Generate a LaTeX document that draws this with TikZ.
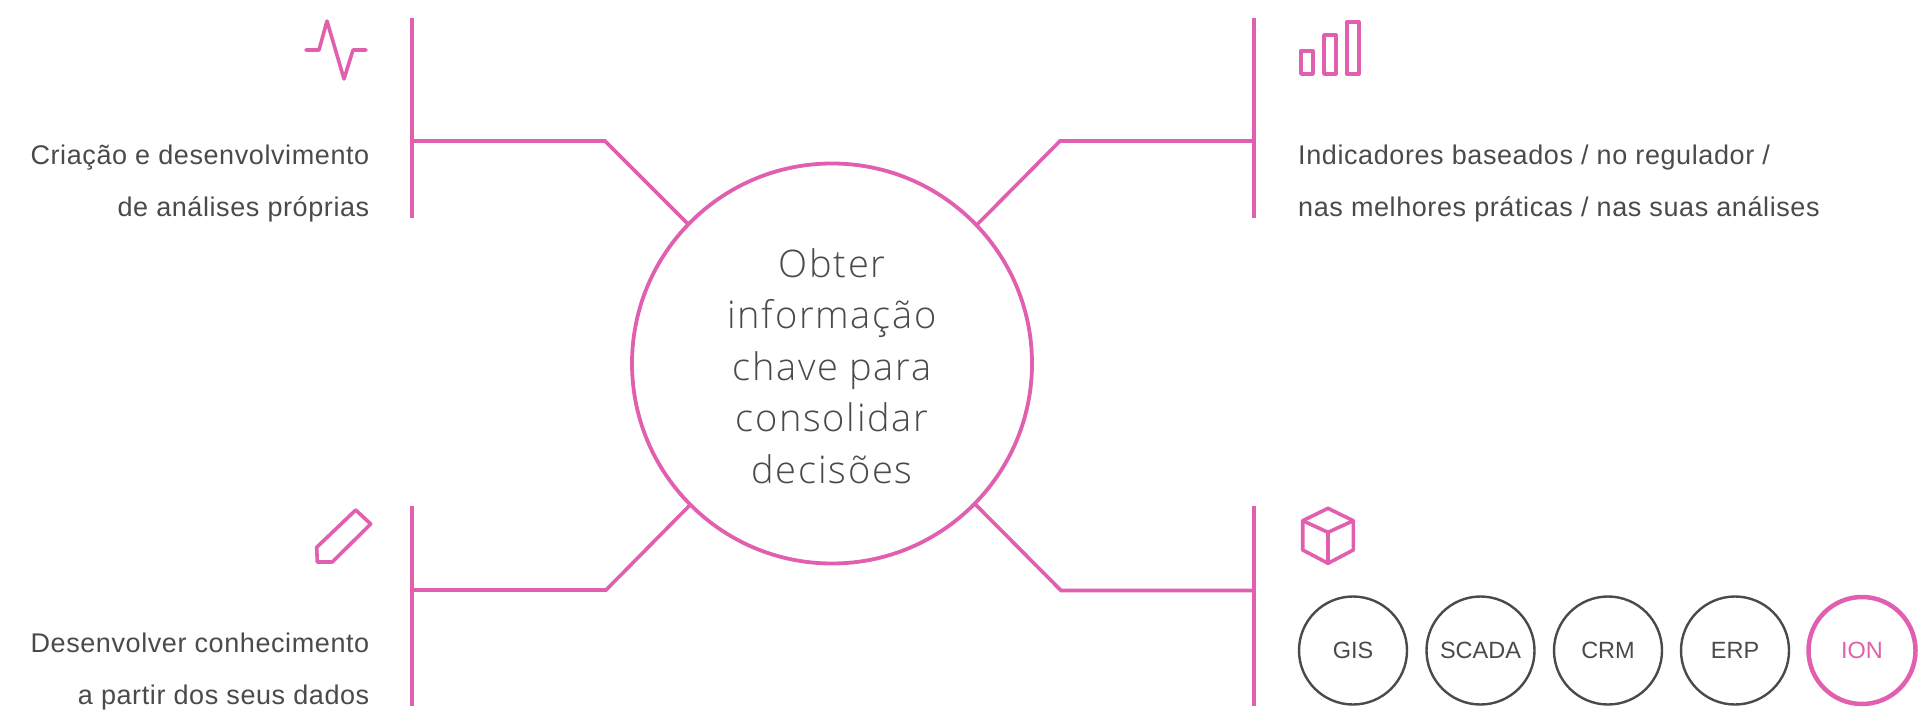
\documentclass[tikz,border=0pt]{standalone}
\usepackage{fontspec}
\setmainfont{Liberation Sans}[LetterSpace=2.2]
\newfontfamily\chipfont{Liberation Sans}
\newfontfamily\lightfont{Open Sans Light}[LetterSpace=4.5]
\definecolor{pink}{HTML}{E05FAE}
\definecolor{ink}{HTML}{4A4A4A}
\tikzset{
  pinkline/.style={draw=pink,line width=3.6pt},
  icon/.style={draw=pink,line width=3.6pt,line join=round,line cap=round},
  para/.style={text=ink,font=\fontsize{27}{27}\selectfont,inner sep=0pt},
  parar/.style={para,anchor=base east},
  paral/.style={para,anchor=base west},
  big/.style={text=ink,font=\lightfont\fontsize{38}{38}\selectfont,inner sep=0pt,anchor=base},
  sys/.style={circle,draw=ink,line width=2.4pt,minimum size=108pt,outer sep=0pt,inner sep=0pt,text=ink,font=\chipfont\fontsize{23.5}{24}\selectfont},
  sysion/.style={sys,draw=pink,line width=4.5pt,minimum size=107pt,text=pink},
  hub/.style={circle,draw=pink,line width=3.8pt,minimum size=400pt,outer sep=0pt,inner sep=0pt},
}
\begin{document}
\begin{tikzpicture}[x=1pt,y=-1pt]
\useasboundingbox (0,0) rectangle (1918,720);
\node[hub] (hub) at (832,363.5) {};
\coordinate (tlA) at (412,18); \coordinate (tlB) at (412,218); \coordinate (tlJ) at (412,141); \coordinate (tlK) at (605,141);
\coordinate (blA) at (412,506); \coordinate (blB) at (412,706); \coordinate (blJ) at (412,590); \coordinate (blK) at (606,590);
\coordinate (trA) at (1254,18); \coordinate (trB) at (1254,218); \coordinate (trJ) at (1254,141); \coordinate (trK) at (1060,141);
\coordinate (brA) at (1254,506); \coordinate (brB) at (1254,706); \coordinate (brJ) at (1254,590.5); \coordinate (brK) at (1061,590.5);
\coordinate (tlE) at ([shift={(-143.7,-139.2)}]hub.center);
\coordinate (trE) at ([shift={(144.7,-138.5)}]hub.center);
\coordinate (brE) at ([shift={(143,140.5)}]hub.center);
\coordinate (blE) at ([shift={(-142,141.5)}]hub.center);
\draw[pinkline] (tlA) -- (tlB);
\draw[pinkline] (blA) -- (blB);
\draw[pinkline] (trA) -- (trB);
\draw[pinkline] (brA) -- (brB);
\draw[pinkline] (tlJ) -- (tlK) -- (tlE);
\draw[pinkline] (blJ) -- (blK) -- (blE);
\draw[pinkline] (trJ) -- (trK) -- (trE);
\draw[pinkline] (brJ) -- (brK) -- (brE);
% centre text
\node[big] (c1) at (832,277) {Obter};
\node[big] (c2) at (832,328.5) {informação};
\node[big] (c3) at (832,380) {chave para};
\node[big] (c4) at (832,431.7) {consolidar};
\node[big] (c5) at (832,483.3) {decisões};
% paragraphs
\node[parar] (p1) at (369.5,164) {Criação e desenvolvimento};
\node[parar] (p2) at (369.5,216) {de análises próprias};
\node[parar] (p3) at (369.5,652) {Desenvolver conhecimento};
\node[parar] (p4) at (369.5,704) {a partir dos seus dados};
\node[paral] (p5) at (1298,164) {Indicadores baseados / no regulador /};
\node[paral] (p6) at (1298,216) {nas melhores práticas / nas suas análises};
% icons
\draw[icon] (306,50) -- (319,50) -- (327,21) -- (344,79) -- (353,50) -- (366,50);
\draw[icon] (1301,50.7) rectangle (1313,74);
\draw[icon] (1324,35) rectangle (1335.7,74);
\draw[icon] (1346.7,22) rectangle (1358.7,74);
\draw[icon] (316.7,547.3) -- (355.7,510) -- (370.7,524) -- (332.3,562) -- (317.3,562) -- cycle;
\draw[icon] (1328,508.3) -- (1353.3,520.7) -- (1353.3,550) -- (1328,563.3) -- (1302.7,550) -- (1302.7,520.7) -- cycle;
\draw[icon] (1302.7,520.7) -- (1328,532.3) -- (1353.3,520.7);
\draw[icon] (1328,532.3) -- (1328,563.3);
% systems
\node[sys] (gis) at (1353,650.5) {GIS};
\node[sys] (scada) at (1480.5,650.5) {SCADA};
\node[sys] (crm) at (1608,650.5) {CRM};
\node[sys] (erp) at (1735,650.5) {ERP};
\node[sysion] (ion) at (1862,650.5) {ION};
\end{tikzpicture}
\end{document}
